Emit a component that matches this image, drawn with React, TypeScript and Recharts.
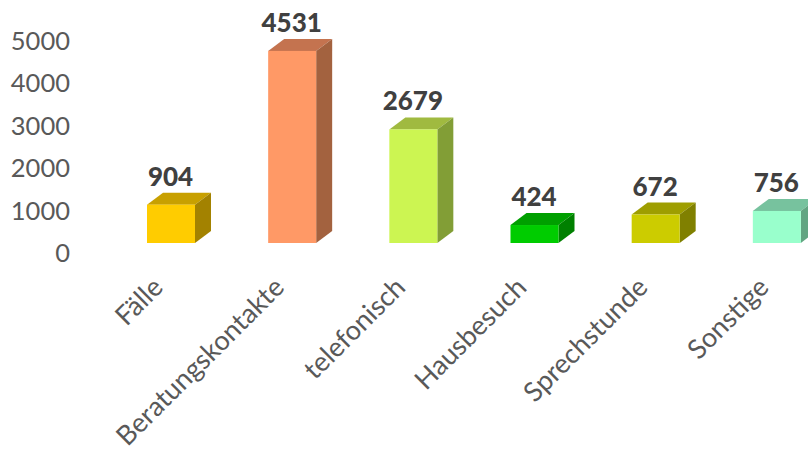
import { BarChart, Bar, XAxis, YAxis, LabelList } from 'recharts'

const categories = ['Fälle', 'Beratungskontakte', 'telefonisch', 'Hausbesuch', 'Sprechstunde', 'Sonstige']
const values = [904, 4531, 2679, 424, 672, 756]
const yTicks = [0, 1000, 2000, 3000, 4000, 5000]

const frontColors = ['#FFCC00', '#FF9966', '#CCF552', '#00CC00', '#CCCC00', '#99FFCC']
const topColors = ['#C8A000', '#C4734F', '#A0BA40', '#009F00', '#9E9E00', '#77C29E']
const sideColors = ['#A38200', '#A3623F', '#829E36', '#008000', '#808000', '#62A582']

const FONT = 'Lato, sans-serif'
const DEPTH_X = 16
const DEPTH_Y = 12

const chartData = categories.map((name, i) => ({ name, value: values[i] }))

// Fake 3D box: front face plus top and side faces
function Box3D(props: any) {
  const { x, y, width, height, index } = props
  const r = x + width
  const b = y + height
  return (
    <g>
      <polygon
        points={`${x},${y} ${x + DEPTH_X},${y - DEPTH_Y} ${r + DEPTH_X},${y - DEPTH_Y} ${r},${y}`}
        fill={topColors[index]}
      />
      <polygon
        points={`${r},${y} ${r + DEPTH_X},${y - DEPTH_Y} ${r + DEPTH_X},${b - DEPTH_Y} ${r},${b}`}
        fill={sideColors[index]}
      />
      <rect x={x} y={y} width={width} height={height} fill={frontColors[index]} />
    </g>
  )
}

function YTick({ y, payload }: any) {
  return (
    <text x={70} y={y + 10} dy={9} textAnchor="end" fontSize={25.5} fontFamily={FONT} fill="#595959">
      {payload.value}
    </text>
  )
}

function XTick({ x, y, payload }: any) {
  return (
    <text
      transform={`translate(${x - 6},${y + 38}) rotate(-45)`}
      textAnchor="end"
      fontSize={27}
      fontFamily={FONT}
      fill="#595959"
    >
      {payload.value}
    </text>
  )
}

function ValueLabel({ x, y, width, value }: any) {
  return (
    <text
      x={x + width / 2 - 0.5}
      y={y - 19}
      textAnchor="middle"
      fontSize={26}
      fontWeight={900}
      fontFamily={FONT}
      fill="#404040"
    >
      {value}
    </text>
  )
}

export default function App() {
  return (
    <div style={{ position: 'absolute', left: 0, top: 0, width: 808, height: 450, overflow: 'hidden', background: '#fff' }}>
      <BarChart
        width={837}
        height={450}
        data={chartData}
        margin={{ top: 31, right: 0, bottom: 0, left: 0 }}
        barSize={48}
      >
        <XAxis
          dataKey="name"
          height={207}
          interval={0}
          axisLine={false}
          tickLine={false}
          tick={<XTick />}
        />
        <YAxis
          width={110}
          domain={[0, 5000]}
          ticks={yTicks}
          axisLine={false}
          tickLine={false}
          tick={<YTick />}
        />
        <Bar dataKey="value" shape={<Box3D />} isAnimationActive={false}>
          <LabelList dataKey="value" content={<ValueLabel />} />
        </Bar>
      </BarChart>
    </div>
  )
}
